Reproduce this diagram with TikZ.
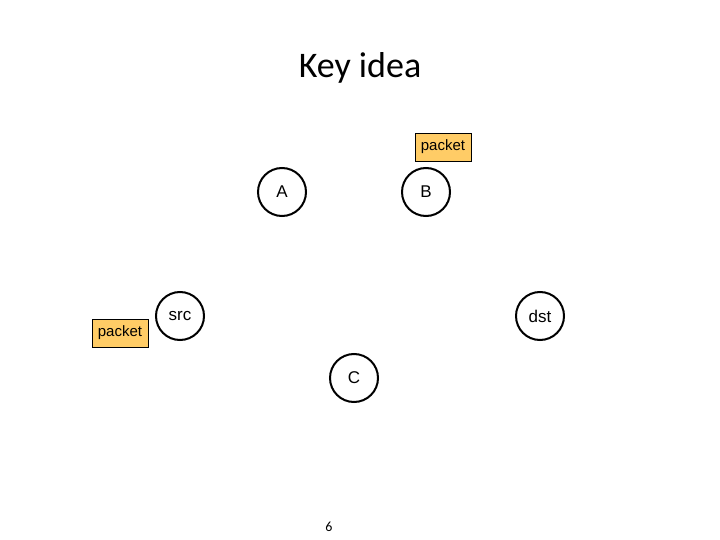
\documentclass[tikz,border=0pt]{standalone}
\usepackage{fontspec}
\setmainfont{Liberation Sans}
\newfontfamily\calib{Carlito}
\begin{document}
\begin{tikzpicture}[x=1pt,y=-1pt,
  nd/.style={circle,draw,line width=2pt,minimum size=48pt,inner sep=0pt,font=\fontsize{17}{20}\selectfont},
  pk/.style={draw,line width=0.8pt,fill=orange!40!yellow!60,fill={rgb,255:red,255;green,204;blue,102},minimum width=56pt,minimum height=28pt,inner sep=2pt,font=\fontsize{15}{18}\selectfont}]
\useasboundingbox (0,0) rectangle (720,540);
\node[font=\calib\fontsize{36}{40}\selectfont] (title) at (360,68) {Key idea};
\node[nd] (A) at (282,192) {A};
\node[nd] (B) at (426,192) {B};
\node[nd] (src) at (180,316) {src};
\node[nd] (dst) at (540,316) {dst};
\node[nd] (C) at (354,378) {C};
\node[pk] (p1) at (443,147) {packet};
\node[pk] (p2) at (120,333) {packet};
\node[font=\calib\fontsize{14}{16}\selectfont] (pg) at (329,527) {6};
\end{tikzpicture}
\end{document}
